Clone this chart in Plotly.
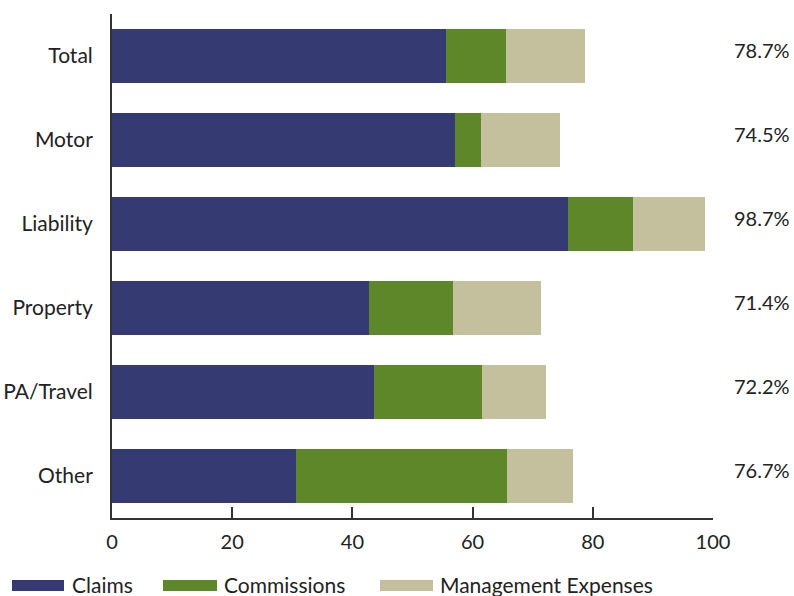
import plotly.graph_objects as go

categories = ["Total", "Motor", "Liability", "Property", "PA/Travel", "Other"]
claims = [55.6, 57.0, 75.8, 42.8, 43.6, 30.6]
commissions = [9.9, 4.4, 10.9, 14.0, 18.0, 35.1]
management = [13.2, 13.1, 12.0, 14.6, 10.6, 11.0]
totals_labels = ["78.7%", "74.5%", "98.7%", "71.4%", "72.2%", "76.7%"]
series_names = ["Claims", "Commissions", "Management Expenses"]
colors = ["#363A73", "#5E8729", "#C4C09D"]
x_ticks = [0, 20, 40, 60, 80, 100]

FONT = "Lato"
W, H = 794, 596
ML, MR, MT, MB = 112, 81, 14, 78
PW = W - ML - MR
PH = H - MT - MB

fig = go.Figure()
for name, vals, col in zip(series_names, [claims, commissions, management], colors):
    fig.add_trace(go.Bar(
        y=categories, x=vals, name=name, orientation="h",
        marker=dict(color=col, line=dict(width=0)),
        showlegend=False, hoverinfo="x+name",
    ))

annotations = []
for cat, lab in zip(categories, totals_labels):
    annotations.append(dict(
        x=(792 - ML) / PW, xref="paper", y=cat, yref="y", yshift=6,
        text=lab, showarrow=False, xanchor="right", yanchor="middle",
        font=dict(family=FONT, size=20, color="#222222"),
    ))

# custom legend (wide swatches)
shapes = []
legend_items = [(12, 64, 70), (163, 217, 222), (380, 433, 438)]
for (sx0, sx1, tx), name, col in zip(legend_items, series_names, colors):
    shapes.append(dict(
        type="rect", xref="paper", yref="paper",
        x0=(sx0 - ML) / PW, x1=(sx1 - ML) / PW,
        y0=(H - MB - 591) / PH, y1=(H - MB - 580) / PH,
        fillcolor=col, line=dict(width=0), layer="above",
    ))
    annotations.append(dict(
        x=(tx - ML) / PW, xref="paper", y=(H - MB - 584) / PH, yref="paper",
        text=name, showarrow=False, xanchor="left", yanchor="middle",
        font=dict(family=FONT, size=21, color="#222222"),
    ))

fig.update_layout(
    barmode="stack",
    bargap=0.36,
    width=W, height=H,
    margin=dict(l=ML, r=MR, t=MT, b=MB, pad=0, autoexpand=False),
    plot_bgcolor="white", paper_bgcolor="white",
    font=dict(family=FONT, size=21, color="#222222"),
    annotations=annotations,
    shapes=shapes,
    xaxis=dict(
        range=[0, 100], tickvals=x_ticks, ticktext=[str(v) for v in x_ticks],
        showgrid=False, zeroline=False, showline=True, linecolor="#333333", linewidth=2,
        ticks="inside", ticklen=11, tickwidth=2, tickcolor="#333333",
        ticklabelstandoff=5, automargin=False,
        tickfont=dict(family=FONT, size=20, color="#222222"),
        fixedrange=True,
    ),
    yaxis=dict(
        autorange="reversed", showgrid=False, zeroline=False,
        showline=True, linecolor="#333333", linewidth=2, ticks="",
        ticklabelstandoff=13, automargin=False,
        tickfont=dict(family=FONT, size=21, color="#222222"),
        fixedrange=True,
    ),
)

fig.write_html("out.html")
